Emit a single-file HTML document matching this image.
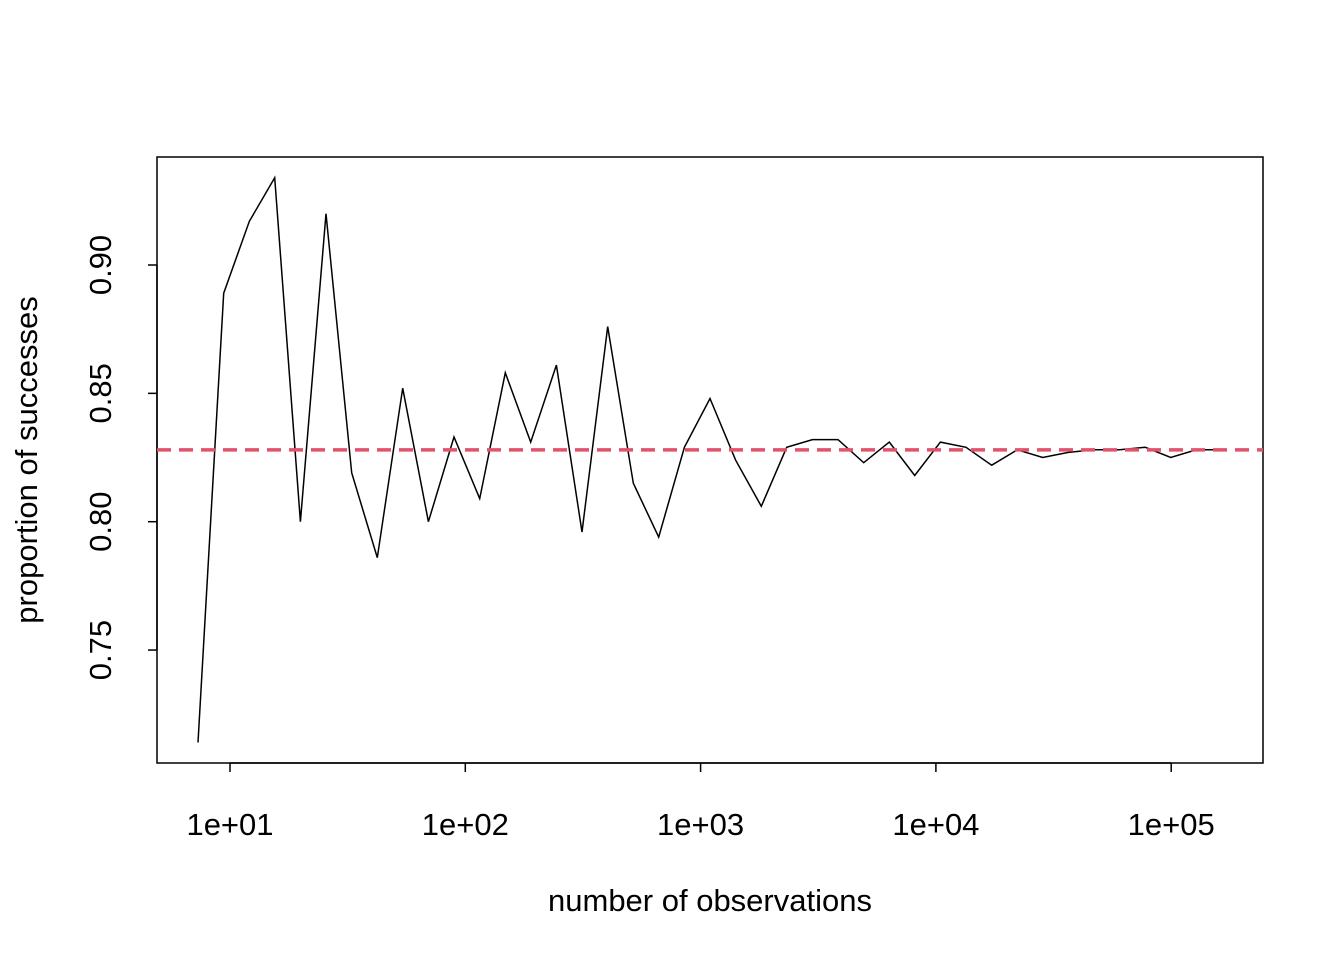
<!DOCTYPE html>
<html><head><meta charset="utf-8"><style>
body{margin:0;background:#fff}
svg text{font-family:"Liberation Sans",Arial,sans-serif;font-size:31px;fill:#000}
</style></head><body>
<svg id="chart" width="1344" height="960" xmlns="http://www.w3.org/2000/svg">
<rect x="157" y="157" width="1106" height="606" fill="none" stroke="#000" stroke-width="1.5"/>
<g id="xaxis"></g>
<g id="yaxis"></g>
<text x="710" y="911" text-anchor="middle">number of observations</text>
<text transform="translate(37,460) rotate(-90)" text-anchor="middle">proportion of successes</text>
<g id="marks"></g>
</svg>
<script>
const nObs = [7.31,9.40,12.08,15.49,19.91,25.59,32.89,42.27,54.2,69.66,89.54,115.1,147.9,189.7,243.8,313.3,402.7,517.6,663.7,853.1,1096.5,1409,1811,2323,2985,3837,4932,6339,8128,10447,13428,17258,22182,28445,36559,46989,60395,77625,99541,127938,164437];
const proportion = [0.714,0.889,0.917,0.934,0.800,0.920,0.819,0.786,0.852,0.800,0.833,0.809,0.858,0.831,0.861,0.796,0.876,0.815,0.794,0.829,0.848,0.824,0.806,0.829,0.832,0.832,0.823,0.831,0.818,0.831,0.829,0.822,0.828,0.825,0.827,0.828,0.828,0.829,0.825,0.828,0.828];
const truth = [0.828];
const xTicks = [10,100,1000,10000,100000];
const xTickLabels = ["1e+01","1e+02","1e+03","1e+04","1e+05"];
const yTicks = [0.75,0.80,0.85,0.90];
const yTickLabels = ["0.75","0.80","0.85","0.90"];

const NS="http://www.w3.org/2000/svg";
function X(n){return 230+(Math.log10(n)-1)*235.3;}
function Y(v){return 265+(0.90-v)*2567;}
function mk(tag,attrs,parent){const e=document.createElementNS(NS,tag);for(const k in attrs)e.setAttribute(k,attrs[k]);parent.appendChild(e);return e;}
const xa=document.getElementById('xaxis'), ya=document.getElementById('yaxis'), marks=document.getElementById('marks');
mk('line',{x1:X(xTicks[0]),x2:X(xTicks[xTicks.length-1]),y1:763,y2:763,stroke:'#000','stroke-width':1.5},xa);
xTicks.forEach((t,i)=>{
  const l=mk('line',{x1:X(t),x2:X(t),y1:763,y2:772,stroke:'#000','stroke-width':1.5},xa);
  
  
  const tx=mk('text',{x:X(t),y:835,'text-anchor':'middle'},xa);tx.textContent=xTickLabels[i];
  
  
});
mk('line',{x1:157,x2:157,y1:Y(yTicks[0]),y2:Y(yTicks[yTicks.length-1]),stroke:'#000','stroke-width':1.5},ya);
yTicks.forEach((t,i)=>{
  const l=mk('line',{x1:148,x2:157,y1:Y(t),y2:Y(t),stroke:'#000','stroke-width':1.5},ya);
  
  
  const tx=mk('text',{transform:`translate(111,${Y(t)}) rotate(-90)`,'text-anchor':'middle'},ya);tx.textContent=yTickLabels[i];
  
  
});
const pts=nObs.map((n,i)=>X(n).toFixed(1)+','+Y(proportion[i]).toFixed(1)).join(' ');
const pl=mk('polyline',{points:pts,fill:'none',stroke:'#000','stroke-width':1.5},marks);


const rl=mk('line',{x1:157,x2:1263,y1:Y(truth[0]),y2:Y(truth[0]),stroke:'#DF536B','stroke-width':3.5,'stroke-dasharray':'14,8'},marks);


</script>
</body></html>
